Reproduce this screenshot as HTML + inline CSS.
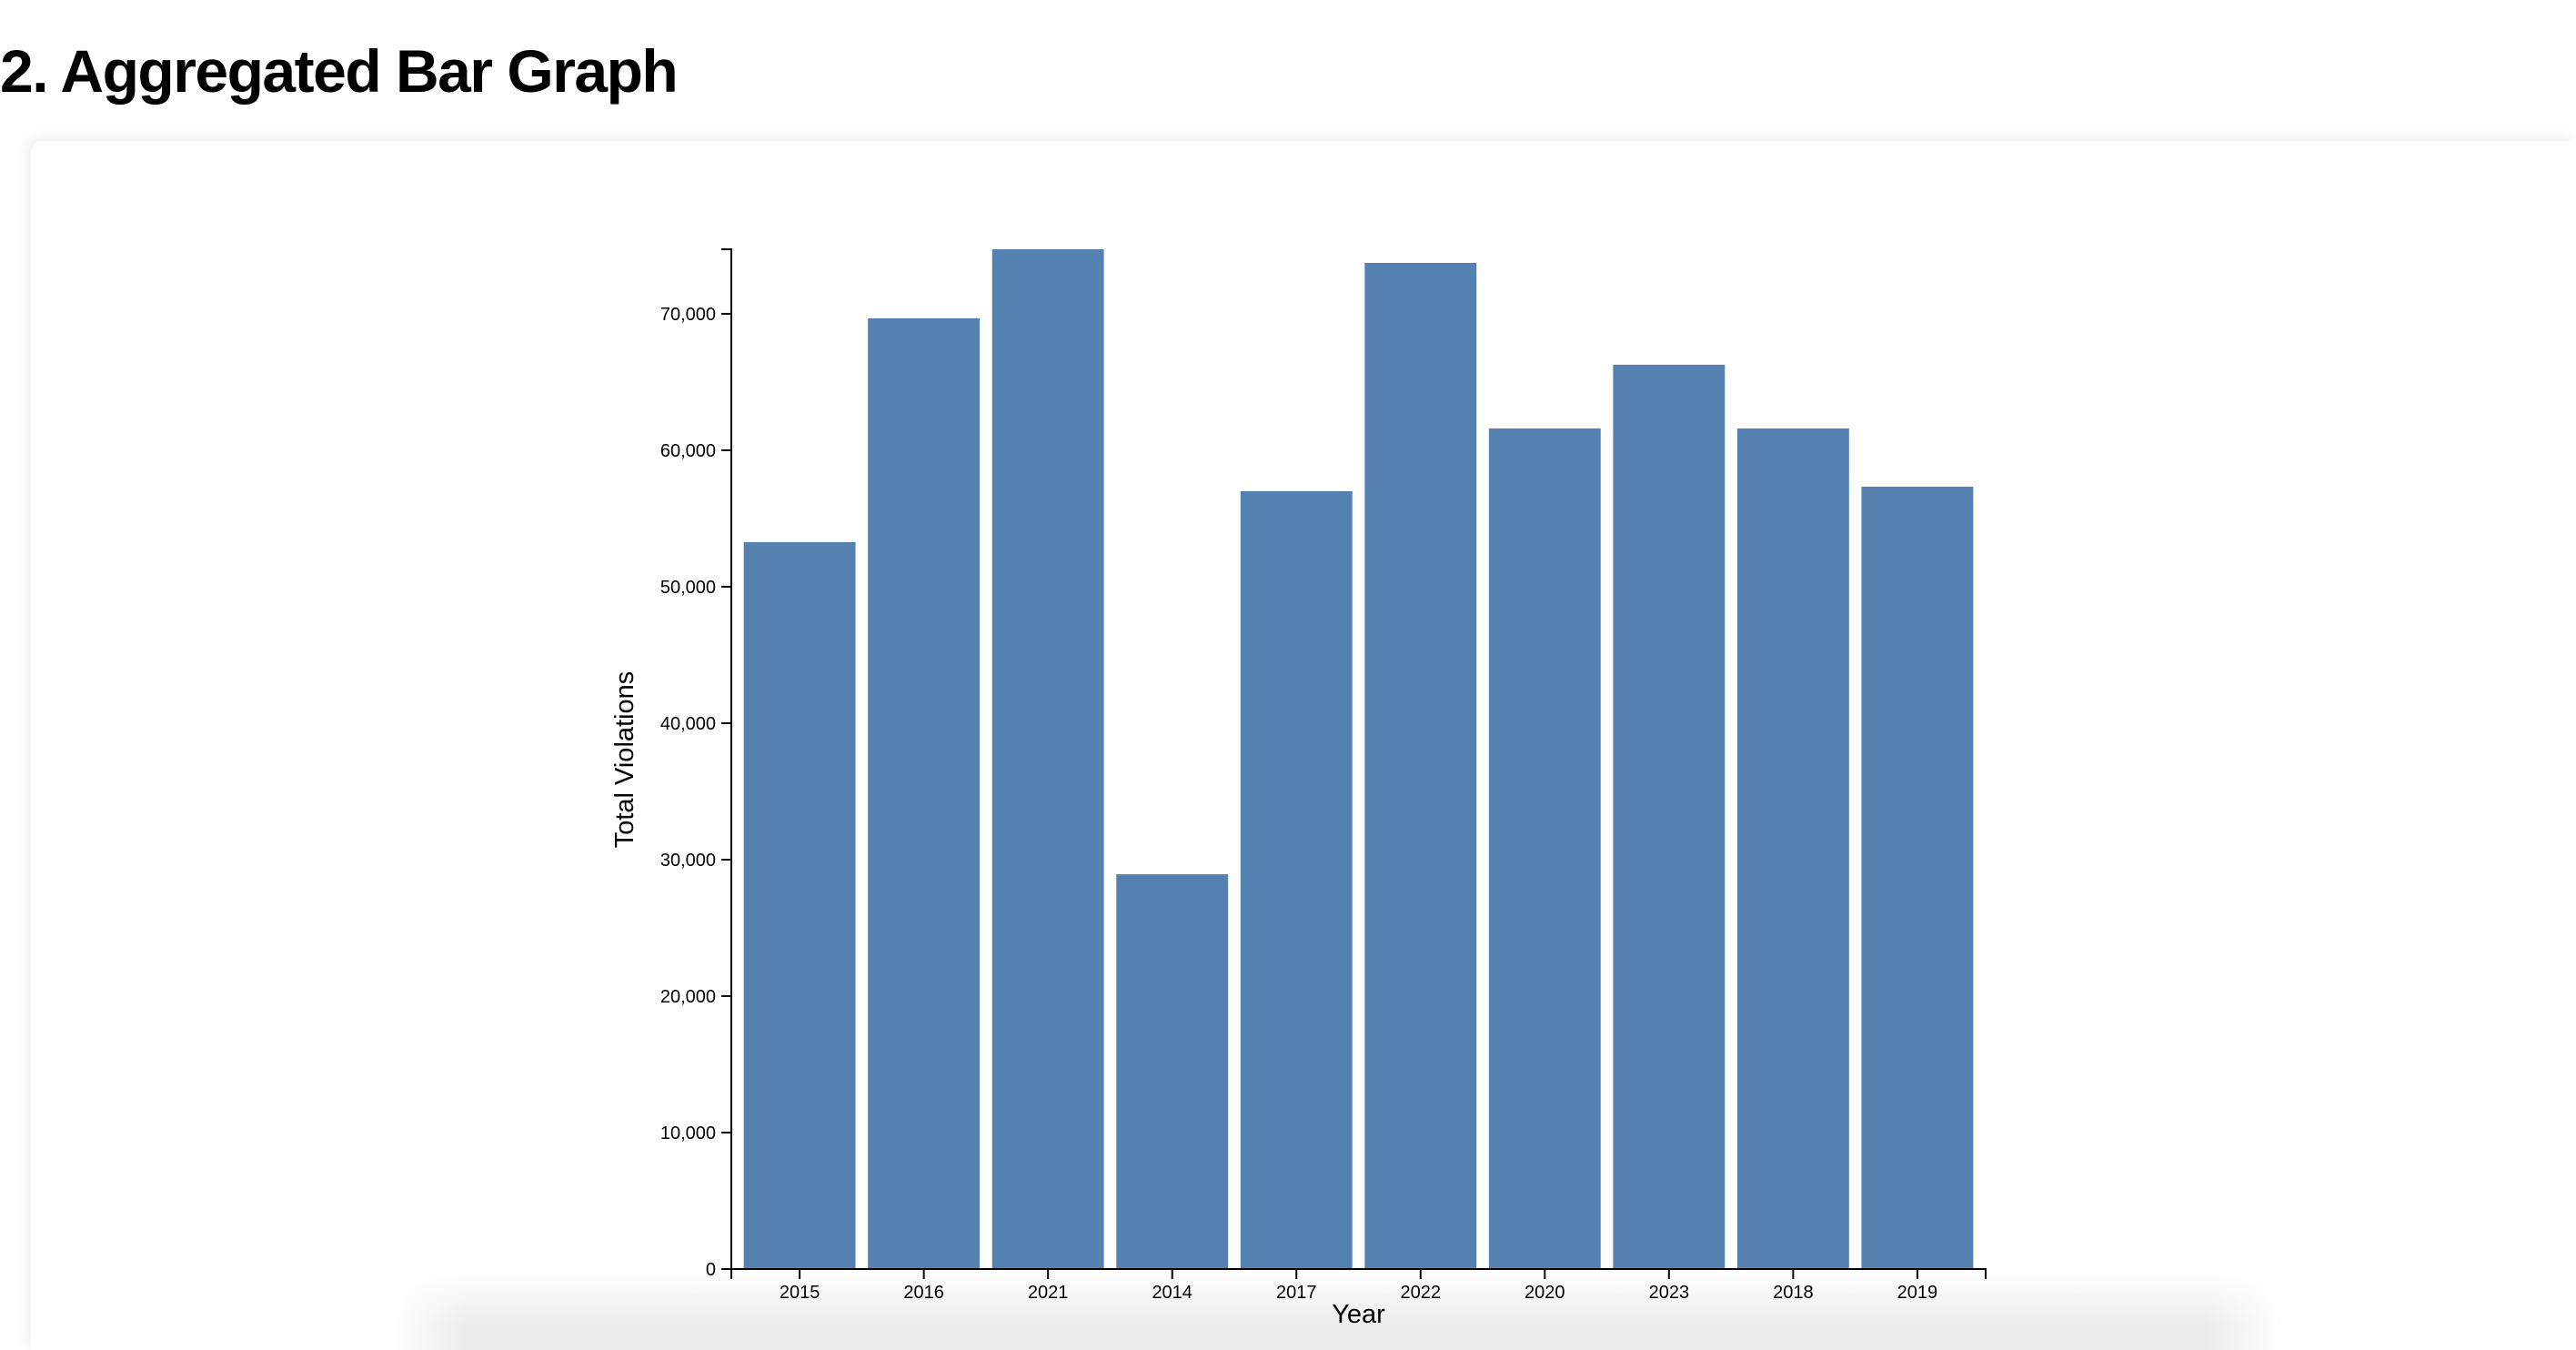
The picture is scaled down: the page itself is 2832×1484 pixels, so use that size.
<!DOCTYPE html>
<html style="width:2832px;height:1484px;overflow:hidden"><head><meta charset="utf-8"><style>
body{margin:0;width:2832px;height:1484px;overflow:hidden;background:#fff;font-family:"Liberation Sans",Arial,sans-serif;position:relative}
h1{position:absolute;left:0;top:40px;margin:0;font-size:66px;font-weight:bold;letter-spacing:-1.5px}
#card{position:absolute;left:34px;top:155px;width:2798px;height:1329px;background:#fff;border-radius:12px 0 0 0;box-shadow:-4px -4px 14px rgba(0,0,0,0.07)}
#shade{position:absolute;left:430px;top:1395px;width:2080px;height:89px;background:linear-gradient(to bottom,rgba(238,238,238,0),rgba(236,236,236,1) 70%);-webkit-mask-image:linear-gradient(to right,transparent,#000 4%,#000 96%,transparent);mask-image:linear-gradient(to right,transparent,#000 4%,#000 96%,transparent)}
svg{position:absolute;left:0;top:0}
</style></head><body>
<h1>2. Aggregated Bar Graph</h1>
<div id="card"></div>
<div id="shade"></div>
<svg id="chart" width="2832" height="1484"></svg>
<script>
const categories=["2015","2016","2021","2014","2017","2022","2020","2023","2018","2019"];
const values=[53270,69670,74730,28930,57000,73730,61600,66270,61600,57330];
const yTicks=[0,10000,20000,30000,40000,50000,60000,70000];
const NS="http://www.w3.org/2000/svg";
const svg=document.getElementById('chart');
const x0=804,x1=2183,y0=1395,y1=274;
const maxV=Math.max(...values);
function y(v){return y0-(v/maxV)*(y0-y1);}
const n=categories.length,pi=0.1,po=0.1;
const step=(x1-x0)/(n-pi+2*po),bw=step*(1-pi);
function x(i){return x0+step*po+i*step;}
function mk(t,a){const e=document.createElementNS(NS,t);for(const k in a)e.setAttribute(k,a[k]);svg.appendChild(e);return e;}
values.forEach((v,i)=>{
 const r=mk('rect',{x:x(i),y:y(v),width:bw,height:y0-y(v),fill:'#5581b0'});
 
 
});
const ya=mk('path',{d:`M${x0-11},${y1}H${x0}V${y0}H${x0-11}`,stroke:'#000','stroke-width':2,fill:'none'});


yTicks.forEach(t=>{
 mk('line',{x1:x0-11,x2:x0,y1:y(t),y2:y(t),stroke:'#000','stroke-width':2});
 const tx=mk('text',{x:x0-17,y:y(t)+7,'text-anchor':'end','font-size':20,fill:'#000'});
 tx.textContent=t.toLocaleString('en-US');
 
 
});
const xa=mk('path',{d:`M${x0},${y0+11}V${y0}H${x1}V${y0+11}`,stroke:'#000','stroke-width':2,fill:'none'});


categories.forEach((c,i)=>{
 const cx=x(i)+bw/2;
 mk('line',{x1:cx,x2:cx,y1:y0,y2:y0+11,stroke:'#000','stroke-width':2});
 const tx=mk('text',{x:cx,y:y0+32,'text-anchor':'middle','font-size':20,fill:'#000'});
 tx.textContent=c;
 
 
});
const xt=mk('text',{x:(x0+x1)/2,y:1454,'text-anchor':'middle','font-size':29,fill:'#000'});
xt.textContent='Year';


const yt=mk('text',{x:0,y:0,'text-anchor':'middle','font-size':29,fill:'#000',transform:`translate(696,835) rotate(-90)`});
yt.textContent='Total Violations';


</script>
</body></html>
